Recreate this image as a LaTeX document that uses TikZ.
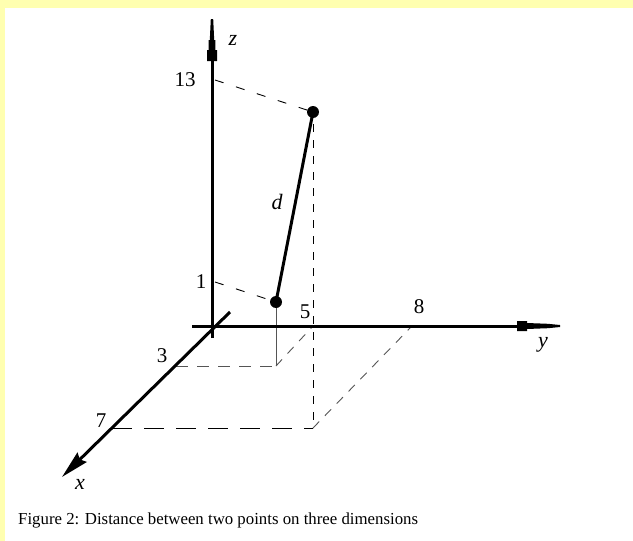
\documentclass[tikz,border=0pt]{standalone}
\usepackage{fontspec}
\setmainfont{Liberation Serif}
\usetikzlibrary{arrows.meta}
\definecolor{bgyellow}{RGB}{255,255,176}
\definecolor{dgray}{RGB}{85,85,85}
\begin{document}
\begin{tikzpicture}[x=1pt,y=-1pt,
  axis/.style={line width=3pt,black},
  segline/.style={line width=3pt,black,line cap=round},
  dot/.style={circle,fill=black,inner sep=0pt,minimum size=12pt},
  dashA/.style={line width=0.9pt,black,dash pattern=on 9pt off 13pt},
  dashV/.style={line width=0.9pt,black,dash pattern=on 8pt off 8pt},
  dashG/.style={line width=0.9pt,dgray,dash pattern=on 12pt off 9pt},
  dashL/.style={line width=0.9pt,black,dash pattern=on 20pt off 12pt},
  dashD/.style={line width=0.9pt,dgray,dash pattern=on 9pt off 8pt},
  numlbl/.style={font=\fontsize{21}{21}\selectfont,inner sep=0pt},
  letlbl/.style={font=\fontsize{22}{22}\selectfont\itshape,inner sep=0pt}]
\fill[bgyellow] (0,0) rectangle (633,541);
\fill[white] (5,8) rectangle (633,541);
\useasboundingbox (0,0) rectangle (633,541);

% key points
\coordinate (O) at (212,326);
\coordinate (zbot) at (212,338);
\coordinate (ztop) at (212,60);
\coordinate (yleft) at (192,326);
\coordinate (yend) at (518,326);
\coordinate (xfar) at (230,312);
\coordinate (xtip) at (62,477);
\coordinate (z13) at (215,80);
\coordinate (z1) at (215,282);
\coordinate (x3) at (176,366);
\coordinate (x7) at (112,428);
\coordinate (y5) at (313,326);
\coordinate (y8) at (412,326);
\coordinate (A) at (276,366);
\coordinate (B) at (313,428);

% dashed guides
\draw[dashA] (z13) -- (313,112);
\draw[dashA] (z1) -- (276,302);
\draw[dashV,dash phase=4pt] (313,112) -- (B);
\draw[line width=0.9pt,dgray] (276,302) -- (A);
\draw[dashG] (x3) -- (A);
\draw[dashD] (A) -- (y5);
\draw[dashL] (x7) -- (B);
\draw[dashD] (B) -- (y8);

% axes
\draw[axis] (zbot) -- (ztop);
\fill (210.8,19) -- (213.2,19) -- (214.2,40) -- (215.3,40) -- (215.3,50) -- (217,50) -- (217,61)
  -- (207,61) -- (207,50) -- (208.7,50) -- (208.7,40) -- (209.8,40) -- cycle;
\draw[axis] (yleft) -- (yend);
\fill (560,325) -- (548,323.8) -- (527,323) -- (527,321) -- (517,321) -- (517,331)
  -- (527,331) -- (527,329) -- (548,328.2) -- (560,327) -- cycle;
\draw[axis,-{Stealth[length=28pt,width=13pt,inset=3pt]}] (xfar) -- (xtip);

% points and distance
\node[dot] (P1) at (276,302) {};
\node[dot] (P2) at (313,112) {};
\draw[segline] (P1.center) -- (P2.center);

% labels
\node[letlbl] (lz) at (233,40) {z};
\node[letlbl] (ly) at (543,345) {y};
\node[letlbl] (lx) at (80,484) {x};
\node[letlbl] (ld) at (277,202) {d};
\node[numlbl] (l13) at (185,80) {13};
\node[numlbl] (l1) at (201,282) {1};
\node[numlbl] (l5) at (305,312) {5};
\node[numlbl] (l8) at (419,307) {8};
\node[numlbl] (l3) at (162,356) {3};
\node[numlbl] (l7) at (101,421) {7};
\node[anchor=west,inner sep=0pt,font=\fontsize{16.8}{16.8}\selectfont] (cap) at (18,520)
  {Figure 2: Distance between two points on three dimensions};
\end{tikzpicture}
\end{document}
